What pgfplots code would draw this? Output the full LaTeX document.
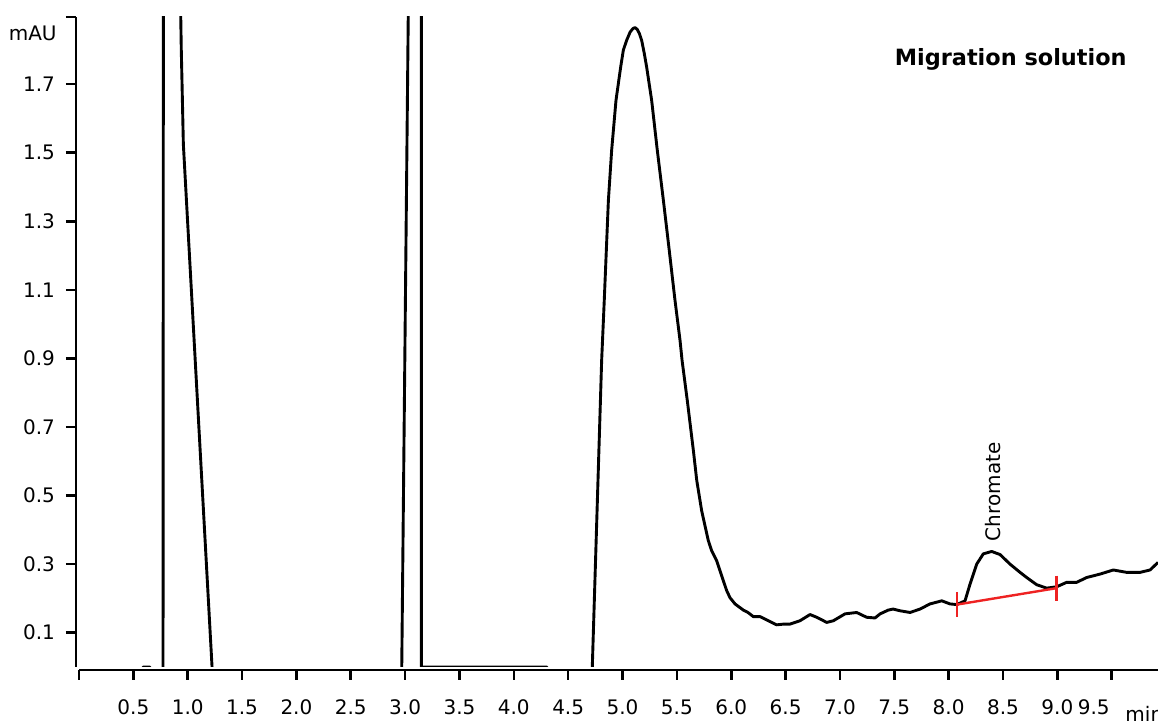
\documentclass[border=0pt]{standalone}
\usepackage{fontspec}
\setmainfont{DejaVu Sans}
\usepackage{pgfplots}
\pgfplotsset{compat=1.18}
\definecolor{intred}{RGB}{238,34,34}

\begin{document}
\begin{tikzpicture}
	\begin{axis}[
		scale only axis,
		width=539.5pt, height=325pt,
		xmin=0, xmax=9.926, ymin=0, ymax=1.896,
		axis lines*=left,
		axis line style={line width=1.3pt},
		axis x line shift=1.5pt,
		axis y line shift=1.5pt,
		tick align=outside,
		major tick length=5pt,
		tick style={line width=1.3pt, black},
		xtick={0,0.5,1,1.5,2,2.5,3,3.5,4,4.5,5,5.5,6,6.5,7,7.5,8,8.5,9},
		xticklabels={,0.5,1.0,1.5,2.0,2.5,3.0,3.5,4.0,4.5,5.0,5.5,6.0,6.5,7.0,7.5,8.0,8.5,9.0},
		extra x ticks={9.5},
		extra x tick labels={9.5},
		extra x tick style={xticklabel style={anchor=north east, xshift=2.5pt}},
		ytick={0.1,0.3,0.5,0.7,0.9,1.1,1.3,1.5,1.7},
		yticklabels={0.1,0.3,0.5,0.7,0.9,1.1,1.3,1.5,1.7},
		extra y ticks={1.896},
		extra y tick labels={},
		xticklabel style={yshift=-6.5pt},
		yticklabel style={xshift=-2pt},
		clip mode=individual,
	]
		% trace, off-scale parts run past the limits and are clipped
		\addplot[black, line width=1.45pt, line join=round] coordinates {
			(0,-0.3) (0.585,-0.3) (0.589,0.0) (0.653,0.0) (0.657,-0.3)
			(0.7725,-0.3) (0.7765,2.2) (0.80,3.0) (0.92,2.6)
			(0.934,1.95) (0.936,1.896) (0.941,1.80) (0.948,1.70) (0.960,1.525)
			(1.224,0.0) (1.232,-0.3)
			(2.966,-0.1) (3.032,2.0) (3.09,3.0) (3.149,2.0)
			(3.149,0.0) (4.305,0.0) (4.31,-0.3)
			(4.713,-0.1) (4.722,0.0) (4.808,0.894)
			(4.832,1.069) (4.87,1.361) (4.90,1.507) (4.94,1.653)
			(4.983,1.75) (5.008,1.80) (5.038,1.828) (5.07,1.852)
			(5.095,1.862) (5.115,1.865) (5.135,1.860) (5.155,1.848)
			(5.176,1.828) (5.20,1.79) (5.222,1.75)
			(5.268,1.653) (5.32,1.507) (5.376,1.361) (5.43,1.215)
			(5.483,1.069) (5.529,0.953) (5.548,0.894) (5.596,0.777)
			(5.652,0.631) (5.683,0.544) (5.728,0.456) (5.789,0.369)
			(5.82,0.339) (5.866,0.31) (5.927,0.252) (5.958,0.223)
			(5.989,0.202) (6.035,0.184) (6.111,0.166) (6.15,0.16)
			(6.203,0.147) (6.265,0.147) (6.34,0.135) (6.418,0.123)
			(6.48,0.125) (6.54,0.125) (6.633,0.135) (6.725,0.153)
			(6.787,0.145) (6.879,0.13) (6.94,0.135) (7.047,0.155)
			(7.154,0.159) (7.246,0.145) (7.323,0.143) (7.37,0.155)
			(7.445,0.166) (7.49,0.169) (7.553,0.164) (7.645,0.159)
			(7.737,0.169) (7.829,0.184) (7.937,0.193) (8.013,0.184)
			(8.075,0.182) (8.151,0.193) (8.197,0.242) (8.258,0.30)
			(8.319,0.33) (8.396,0.337) (8.473,0.328) (8.565,0.30)
			(8.657,0.276) (8.718,0.261) (8.81,0.24) (8.902,0.23)
			(8.994,0.234) (9.086,0.247) (9.178,0.247) (9.27,0.261)
			(9.393,0.271) (9.515,0.283) (9.638,0.276) (9.761,0.276)
			(9.853,0.283) (9.926,0.305)
		};
		% integration baseline of the chromate peak
		\addplot[intred, line width=1.2pt, mark=|, mark size=6.3pt,
			mark options={line width=1.2pt}] coordinates {
			(8.075,0.182) (8.994,0.230)
		};
		\node[rotate=90, anchor=west, inner sep=0pt] at (axis cs:8.41,0.366) {Chromate};
		\node[anchor=base east, inner sep=0pt, font=\fontsize{11.2}{13}\selectfont\bfseries]
			at (axis cs:9.641,1.755) {Migration solution};
		\node[anchor=base east, inner sep=0pt] at (axis cs:-0.202,1.828) {mAU};
		\node[anchor=base west, inner sep=0pt] at (axis cs:9.623,-0.16) {min};
		\coordinate (O) at (rel axis cs:0,0);
	\end{axis}
	\pgfresetboundingbox
	\path[use as bounding box] ([shift={(-39.5pt,-27.5pt)}]O) rectangle ([shift={(539.5pt,333.5pt)}]O);
\end{tikzpicture}
\end{document}
